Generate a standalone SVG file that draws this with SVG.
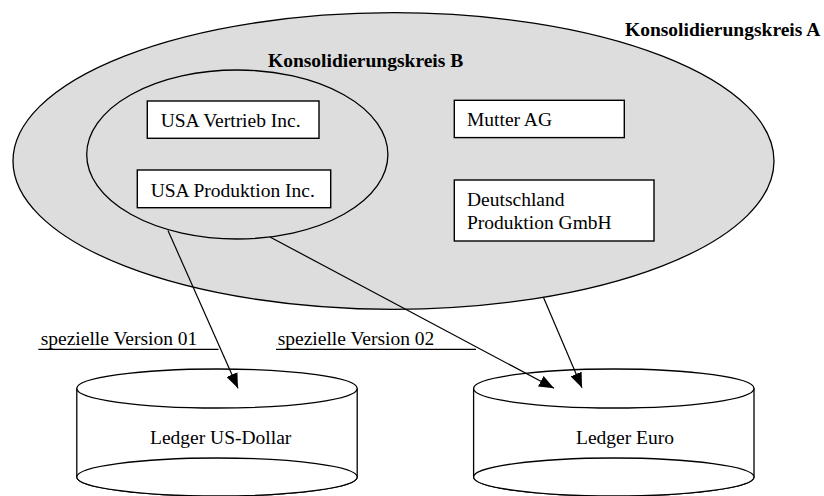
<svg xmlns="http://www.w3.org/2000/svg" width="824" height="496" viewBox="0 0 824 496">
  <style>
    .area { fill: #dddddd; stroke: #000; stroke-width: 1.3; }
    .box { fill: #fff; stroke: #000; stroke-width: 1.4; }
    .cyl { fill: #fff; stroke: #000; stroke-width: 1.3; }
    .t { font-family: "Liberation Serif", "Times New Roman", serif; font-size: 19.5px; fill: #000; }
    .tb { font-family: "Liberation Serif", "Times New Roman", serif; font-size: 19.5px; font-weight: bold; fill: #000; }
    .conn { stroke: #000; stroke-width: 1.2; fill: none; marker-end: url(#arrow); }
    .ul { stroke: #000; stroke-width: 1.3; }
  </style>
  <defs>
    <marker id="arrow" markerUnits="userSpaceOnUse" markerWidth="16" markerHeight="12" refX="15" refY="6" orient="auto">
      <path d="M0,0 L15,6 L0,12 Z" fill="#000"/>
    </marker>
  </defs>
  <rect width="824" height="496" fill="#fff"/>

  <g id="kreis-a">
    <ellipse class="area" cx="393.5" cy="161" rx="380.5" ry="148.3"/>
    <text class="tb" x="625" y="36">Konsolidierungskreis A</text>
  </g>

  <g id="kreis-b">
    <ellipse class="area" cx="237.3" cy="154.5" rx="150.6" ry="84.5"/>
    <text class="tb" x="268" y="66.7">Konsolidierungskreis B</text>
  </g>

  <g id="usa-vertrieb">
    <rect class="box" x="147.3" y="101" width="171.7" height="37.3"/>
    <text class="t" x="160.7" y="127.3">USA Vertrieb Inc.</text>
  </g>

  <g id="usa-produktion">
    <rect class="box" x="137.3" y="170" width="193.4" height="37.7"/>
    <text class="t" x="150.7" y="196.7">USA Produktion Inc.</text>
  </g>

  <g id="mutter-ag">
    <rect class="box" x="454.3" y="100.3" width="170" height="37.3"/>
    <text class="t" x="467" y="125.8">Mutter AG</text>
  </g>

  <g id="deutschland-produktion">
    <rect class="box" x="454.3" y="180" width="199.7" height="61"/>
    <text class="t" x="467" y="205.7">Deutschland</text>
    <text class="t" x="467" y="229.3">Produktion GmbH</text>
  </g>

  <g id="ledger-usd">
    <path class="cyl" d="M76.8,388.5 L76.8,477 A140.2,19 0 0 0 357.2,477 L357.2,388.5 Z"/>
    <ellipse class="cyl" cx="217" cy="477" rx="140.2" ry="19"/>
    <ellipse class="cyl" cx="217" cy="388.5" rx="140.2" ry="19.5"/>
    <text class="t" x="150" y="444">Ledger US-Dollar</text>
  </g>

  <g id="ledger-euro">
    <path class="cyl" d="M473.6,388.5 L473.6,477 A140.2,19 0 0 0 754,477 L754,388.5 Z"/>
    <ellipse class="cyl" cx="613.8" cy="477" rx="140.2" ry="19"/>
    <ellipse class="cyl" cx="613.8" cy="388.5" rx="140.2" ry="19.5"/>
    <text class="t" x="576" y="444">Ledger Euro</text>
  </g>

  <g id="label-v01">
    <text class="t" x="40.7" y="345">spezielle Version 01</text>
    <line class="ul" x1="38.3" y1="349.3" x2="218.5" y2="349.3"/>
  </g>

  <g id="label-v02">
    <text class="t" x="277.7" y="345">spezielle Version 02</text>
    <line class="ul" x1="276" y1="349.3" x2="476" y2="349.3"/>
  </g>

  <g id="connectors">
    <line class="conn" x1="168" y1="230.5" x2="238" y2="388.3"/>
    <line class="conn" x1="270" y1="237" x2="554" y2="388.3"/>
    <line class="conn" x1="543.5" y1="297.5" x2="582" y2="387.8"/>
  </g>
</svg>
